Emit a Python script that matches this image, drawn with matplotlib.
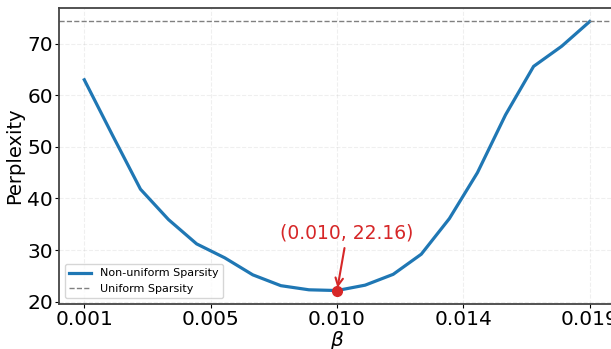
import numpy as np
import matplotlib
matplotlib.use('Agg')
import matplotlib.pyplot as plt

beta = [0.001, 0.002, 0.003, 0.004, 0.005, 0.006, 0.007, 0.008, 0.009, 0.010,
        0.011, 0.012, 0.013, 0.014, 0.015, 0.016, 0.017, 0.018, 0.019]
ppl = [63.0, 52.3, 41.8, 35.9, 31.2, 28.5, 25.2, 23.1, 22.3, 22.16,
       23.2, 25.3, 29.2, 36.1, 45.0, 56.2, 65.6, 69.5, 74.3]
uniform_ppl = 74.3
best_beta = 0.010
best_ppl = 22.16
xticks = np.linspace(0.001, 0.019, 5)

fig = plt.figure(figsize=(6.11, 3.49), dpi=100)
ax = fig.add_axes([0.0966, 0.129, 0.91, 0.848])

ax.plot(beta, ppl, color='#1f77b4', lw=2.3, label='Non-uniform Sparsity')
ax.axhline(uniform_ppl, color='gray', ls='--', lw=1, label='Uniform Sparsity')
ax.plot(best_beta, best_ppl, 'o', color='#d62728', ms=7, zorder=5)
ax.annotate('(%.3f, %.2f)' % (best_beta, best_ppl), xy=(best_beta, best_ppl),
            xytext=(0.01036, 33.3), ha='center', va='center', fontsize=13.5,
            color='#d62728',
            arrowprops=dict(arrowstyle='->', color='#d62728', lw=1.5))

ax.set_xticks(xticks)
ax.set_xticklabels(['%.3f' % t for t in xticks])
ax.tick_params(labelsize=14.5, length=3, pad=1.5)
ax.set_xlabel(r'$\beta$', fontsize=14.5, labelpad=0)
ax.set_ylabel('Perplexity', fontsize=14, labelpad=2)
ax.grid(True, ls='--', alpha=0.2)
for s in ax.spines.values():
    s.set_color('#444444')
    s.set_linewidth(1.3)
ax.legend(loc='lower left', fontsize=8)

fig.savefig('out.png')
